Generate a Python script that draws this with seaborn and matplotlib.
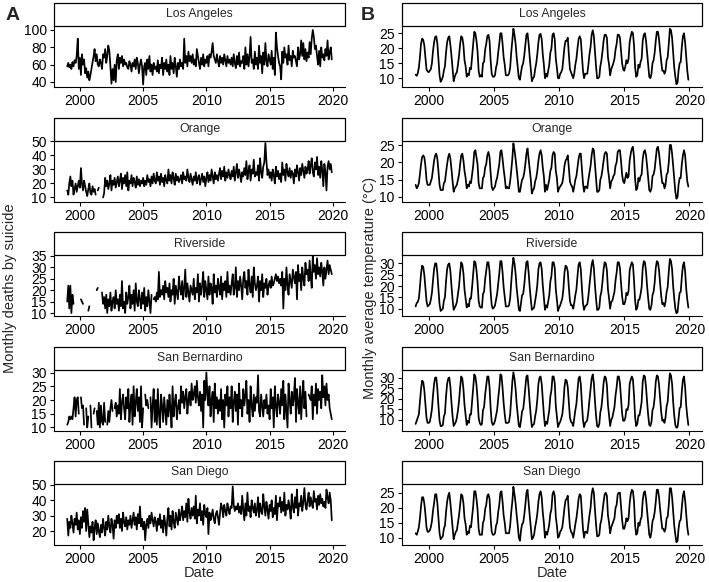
import numpy as np
import pandas as pd
import matplotlib
matplotlib.use("Agg")
import matplotlib.pyplot as plt
from matplotlib.patches import Rectangle
import seaborn as sns

nan = float("nan")

counties = ["Los Angeles", "Orange", "Riverside", "San Bernardino", "San Diego"]
x_tick_years = [2000, 2005, 2010, 2015, 2020]
dates = pd.date_range("1999-01-01", periods=252, freq="MS")

# ---------------- Monthly deaths by suicide ----------------
deaths_la = [
    58, 62, 57, 60, 55, 63, 58, 65, 62, 70, 90, 55,
    68, 48, 72, 60, 66, 50, 56, 45, 52, 42, 48, 55,
    62, 70, 78, 64, 72, 60, 58, 66, 62, 55, 72, 68,
    78, 62, 70, 82, 76, 58, 38, 55, 42, 60, 40, 65,
    72, 55, 68, 62, 70, 58, 66, 60, 62, 57, 55, 64,
    60, 52, 62, 58, 66, 55, 68, 62, 50, 60, 66, 58,
    37, 58, 62, 48, 66, 55, 70, 52, 60, 48, 62, 55,
    58, 52, 65, 50, 60, 56, 68, 48, 62, 55, 66, 52,
    60, 48, 70, 55, 62, 50, 68, 58, 46, 62, 55, 66,
    58, 62, 55, 90, 62, 70, 58, 75, 64, 70, 62, 72,
    60, 66, 58, 78, 70, 62, 55, 68, 60, 72, 58, 66,
    62, 70, 58, 72, 68, 75, 85, 70, 66, 62, 72, 64,
    58, 70, 62, 68, 60, 72, 65, 58, 70, 62, 66, 60,
    68, 58, 72, 62, 56, 70, 60, 74, 58, 64, 62, 70,
    55, 80, 60, 72, 58, 70, 92, 62, 66, 55, 75, 60,
    68, 55, 82, 62, 70, 50, 74, 60, 85, 64, 58, 72,
    66, 60, 76, 55, 68, 48, 97, 80, 70, 62, 58, 43,
    75, 62, 80, 68, 72, 60, 82, 65, 70, 58, 76, 68,
    70, 64, 58, 80, 66, 72, 88, 70, 85, 66, 78, 64,
    74, 68, 86, 72, 90, 100, 92, 78, 82, 70, 60, 76,
    58, 80, 68, 72, 65, 78, 70, 88, 66, 74, 80, 66,
]
deaths_orange = [
    15, 12, 20, 25, 18, 22, 12, 16, 20, 14, 18, 22,
    17, 31, 20, 15, 22, 18, 14, 11, 16, 20, 13, 12,
    18, 14, 16, 12, nan, 15, 17, nan, nan, nan, 10, 13,
    24, 18, 22, 16, 20, 26, 15, 22, 19, 24, 17, 21,
    25, 18, 22, 27, 16, 24, 20, 26, 18, 28, 15, 22,
    20, 26, 18, 24, 21, 17, 25, 19, 23, 18, 22, 20,
    24, 18, 22, 19, 26, 21, 23, 18, 25, 20, 27, 22,
    20, 28, 22, 25, 19, 27, 21, 24, 18, 26, 22, 20,
    30, 22, 26, 20, 28, 24, 19, 27, 22, 25, 21, 23,
    26, 20, 28, 23, 25, 22, 30, 24, 21, 27, 23, 19,
    25, 22, 28, 20, 24, 26, 19, 23, 27, 21, 25, 18,
    24, 28, 21, 26, 22, 30, 25, 20, 28, 23, 26, 22,
    27, 31, 23, 29, 25, 32, 22, 28, 24, 30, 26, 23,
    29, 25, 32, 22, 28, 34, 24, 30, 26, 21, 28, 25,
    31, 26, 36, 23, 29, 33, 22, 30, 27, 37, 25, 28,
    26, 33, 22, 38, 28, 24, 32, 35, 49, 36, 26, 30,
    24, 28, 22, 30, 26, 20, 32, 25, 29, 23, 27, 21,
    35, 26, 30, 22, 34, 28, 25, 31, 24, 29, 27, 20,
    30, 25, 33, 28, 22, 31, 26, 34, 29, 24, 32, 27,
    30, 36, 27, 33, 38, 28, 25, 35, 30, 39, 26, 32,
    24, 36, 30, 18, 34, 28, 15, 32, 36, 30, 34, 28,
]
deaths_riverside = [
    15, 22, 12, 22, 10, 18, 14, nan, nan, nan, nan, nan,
    nan, 16, 15, 14, nan, nan, nan, nan, 11, 13, nan, nan,
    nan, nan, nan, nan, 20, 21, nan, nan, nan, 19, 14, 17,
    12, 18, 10, 16, 13, 19, 11, 15, 17, 12, 20, 14,
    16, 11, 18, 13, 24, 12, 15, 10, 19, 14, 17, 22,
    12, 18, 14, 20, 11, 23, 15, 13, 20, 16, 12, 19,
    14, 21, 11, 17, 13, 20, 15, 10, 18, nan, 16, 17,
    15, 19, 16, 28, 17, 20, 18, 22, 16, 24, 19, 21,
    17, 23, 15, 20, 18, 25, 14, 22, 19, 16, 26, 21,
    18, 24, 16, 21, 29, 17, 23, 19, 15, 22, 20, 18,
    25, 16, 21, 19, 27, 15, 23, 18, 22, 28, 17, 24,
    20, 16, 26, 18, 23, 21, 14, 27, 19, 22, 17, 25,
    21, 18, 26, 16, 23, 20, 24, 17, 28, 19, 22, 18,
    23, 27, 18, 21, 30, 17, 24, 20, 26, 22, 16, 25,
    28, 21, 24, 18, 29, 22, 19, 26, 17, 30, 23, 20,
    22, 26, 15, 24, 20, 27, 17, 23, 21, 25, 18, 22,
    24, 21, 26, 22, 23, 25, 27, 24, 26, 23, 25, 22,
    28, 12, 25, 20, 30, 22, 18, 27, 24, 21, 29, 26,
    23, 28, 16, 31, 24, 27, 20, 30, 25, 22, 32, 27,
    29, 24, 33, 26, 21, 35, 28, 31, 25, 34, 27, 30,
    26, 32, 28, 22, 30, 25, 29, 33, 27, 31, 29, 27,
]
deaths_sanbernardino = [
    11, 12, 14, 13, 14, 13, 17, 21, 14, 20, 21, 15,
    nan, 21, 17, 18, 11, nan, 17, 10, 14, nan, 18, 10,
    nan, 15, 17, nan, 16, 11, 19, 10, 18, 12, 11, 19,
    12, nan, 11, 16, 12, 17, 20, 16, nan, 17, 19, 14,
    18, 15, 24, 13, 19, 22, 17, 13, 21, 17, 24, 12,
    18, 22, 11, 25, 14, 19, 24, 16, 21, 12, 25, 10,
    17, nan, 22, 18, 20, 17, nan, 21, 10, 18, 24, 12,
    20, 11, 24, 15, 10, 22, 18, 12, 21, 16, 11, 20,
    14, 22, 17, 10, 25, 14, 19, 22, 13, 17, 20, 15,
    25, 19, 23, 17, 21, 24, 15, 20, 23, 18, 26, 20,
    22, 25, 19, 27, 21, 18, 23, 16, 22, 10, 27, 20,
    30, 22, 18, 25, 14, 20, 23, 12, 26, 17, 21, 15,
    20, 16, 24, 13, 20, 10, 22, 18, 25, 14, 21, 17,
    25, 12, 19, 23, 16, 22, 11, 26, 17, 20, 14, 24,
    18, 22, 27, 15, 20, 12, 25, 18, 14, 22, 16, 21,
    19, 29, 16, 14, 22, 18, 14, 20, 17, 22, 15, 18,
    13, 24, 17, 21, 10, 25, 18, 14, 22, 19, 15, 24,
    18, 27, 13, 22, 16, 10, 26, 20, 15, 23, 18, 21,
    28, 12, 24, 19, 15, 25, 13, 21, 27, 17, 23, 14,
    nan, 22, 21, 20, 25, 13, 22, 18, 26, 15, 24, 20,
    23, 17, 29, 21, 25, 18, 26, 20, 22, 17, 15, 13,
]
deaths_sandiego = [
    28, 17, 26, 22, 30, 25, 19, 28, 24, 32, 21, 27,
    18, 29, 22, 33, 26, 35, 20, 34, 25, 16, 23, 19,
    26, 14, 22, 27, 18, 25, 20, 16, 24, 19, 28, 22,
    17, 26, 21, 30, 23, 19, 28, 24, 15, 27, 22, 30,
    25, 31, 22, 28, 20, 32, 26, 23, 29, 21, 27, 24,
    30, 22, 27, 32, 24, 29, 21, 31, 25, 36, 23, 28,
    21, 26, 14, 24, 28, 22, 30, 25, 32, 27, 23, 29,
    26, 20, 28, 24, 31, 22, 27, 19, 30, 25, 17, 28,
    35, 23, 30, 21, 33, 26, 22, 32, 28, 24, 34, 27,
    31, 36, 27, 33, 29, 38, 26, 41, 32, 28, 35, 30,
    36, 28, 43, 25, 34, 30, 38, 27, 33, 24, 37, 31,
    29, 35, 18, 32, 27, 30, 34, 28, 25, 31, 33, 29,
    24, 32, 38, 35, 29, 37, 33, 30, 38, 34, 31, 36,
    35, 49, 37, 33, 36, 34, 38, 32, 36, 31, 43, 34,
    27, 38, 30, 45, 33, 36, 29, 40, 35, 32, 38, 30,
    34, 42, 29, 38, 33, 31, 44, 36, 30, 39, 34, 28,
    37, 33, 40, 29, 35, 31, 43, 27, 38, 36, 42, 32,
    39, 33, 45, 30, 37, 34, 40, 35, 28, 44, 36, 32,
    42, 35, 47, 30, 38, 36, 43, 33, 39, 48, 37, 34,
    40, 45, 36, 42, 38, 35, 46, 39, 41, 34, 43, 37,
    44, 38, 41, 36, 39, 35, 47, 42, 38, 45, 40, 27,
]

# ---------------- Monthly average temperature (°C) ----------------
temp_la = [
    11.2, 10.8, 11.6, 13.5, 17.0, 21.5, 23.2, 22.8, 21.0, 17.0, 13.0, 12.3,
    12.0, 12.5, 13.0, 15.0, 19.0, 22.0, 23.8, 24.0, 21.5, 16.5, 11.0, 8.8,
    9.5, 10.5, 12.5, 14.0, 18.5, 22.0, 23.5, 24.0, 21.0, 17.5, 13.0, 9.0,
    10.5, 11.5, 12.0, 14.5, 17.5, 21.5, 24.0, 23.5, 21.0, 16.0, 14.0, 10.5,
    11.5, 11.0, 13.5, 13.0, 17.0, 21.0, 25.5, 25.0, 22.5, 19.0, 12.5, 10.5,
    11.0, 10.5, 15.0, 15.5, 19.5, 21.5, 24.0, 24.5, 22.5, 16.0, 11.5, 10.5,
    10.5, 11.0, 13.5, 15.0, 18.5, 21.5, 25.0, 25.0, 21.5, 17.0, 14.5, 11.0,
    11.0, 11.0, 11.5, 13.5, 18.5, 22.5, 26.5, 24.5, 21.5, 17.0, 13.5, 10.0,
    9.5, 12.0, 14.0, 15.0, 17.5, 21.0, 24.5, 25.0, 21.5, 17.0, 13.0, 9.0,
    10.0, 10.5, 13.0, 15.0, 18.0, 22.0, 24.5, 24.8, 23.0, 18.0, 14.5, 10.0,
    11.5, 10.5, 12.5, 14.5, 18.5, 20.0, 24.5, 25.0, 23.0, 16.5, 13.5, 10.0,
    10.0, 11.5, 12.0, 13.0, 16.5, 20.5, 22.5, 22.5, 23.5, 18.0, 13.0, 12.0,
    11.0, 10.0, 11.5, 14.5, 16.5, 20.0, 23.0, 24.0, 23.0, 18.0, 12.5, 10.0,
    11.5, 11.5, 11.5, 14.5, 18.0, 20.5, 24.5, 26.0, 24.0, 19.0, 14.0, 10.0,
    10.0, 10.5, 14.0, 16.0, 19.0, 22.5, 24.5, 24.5, 23.5, 17.0, 14.5, 11.0,
    13.0, 14.0, 15.0, 16.5, 19.5, 21.5, 24.5, 24.5, 23.5, 19.5, 15.0, 13.0,
    12.5, 14.0, 16.0, 15.0, 16.5, 22.0, 24.0, 25.5, 25.0, 21.0, 13.5, 10.5,
    11.0, 14.5, 13.5, 15.5, 16.5, 22.5, 24.5, 25.0, 22.5, 18.5, 14.5, 10.5,
    10.0, 11.5, 15.0, 16.0, 18.5, 22.5, 25.5, 25.5, 23.0, 19.0, 15.5, 12.5,
    12.5, 11.5, 12.5, 16.0, 17.0, 21.5, 26.5, 26.0, 23.5, 18.5, 13.5, 10.5,
    8.0, 8.5, 12.5, 15.0, 15.5, 20.5, 24.0, 25.0, 22.0, 17.5, 12.5, 9.5,
]
temp_orange = [
    13.5, 12.5, 13.0, 14.0, 16.5, 19.5, 21.5, 22.0, 21.5, 19.0, 15.0, 13.5,
    13.5, 13.5, 14.5, 15.5, 18.0, 20.5, 22.0, 22.5, 21.0, 17.5, 13.5, 12.0,
    12.0, 12.0, 14.0, 14.5, 17.0, 19.5, 21.5, 22.5, 21.0, 18.0, 14.5, 11.5,
    12.5, 13.0, 13.5, 15.0, 16.5, 19.5, 22.0, 22.5, 20.5, 17.5, 15.5, 12.5,
    13.5, 13.0, 14.5, 14.0, 16.5, 19.0, 23.0, 23.5, 21.5, 19.5, 14.0, 12.5,
    12.5, 12.5, 15.5, 16.0, 18.5, 19.5, 22.0, 23.0, 21.5, 17.0, 13.0, 12.0,
    12.5, 13.0, 14.5, 15.5, 17.5, 19.5, 23.0, 23.5, 21.0, 18.0, 15.5, 12.5,
    13.0, 12.5, 12.5, 14.5, 17.5, 21.0, 25.5, 23.5, 21.0, 18.0, 15.0, 11.5,
    11.5, 13.5, 15.0, 15.5, 17.0, 19.5, 22.5, 24.0, 21.0, 18.0, 15.0, 11.0,
    12.0, 12.5, 14.5, 15.5, 17.5, 20.5, 22.5, 23.5, 22.0, 18.5, 16.0, 11.5,
    13.5, 12.0, 13.5, 15.0, 17.5, 18.5, 22.0, 23.0, 22.5, 17.5, 15.5, 11.5,
    12.5, 13.0, 13.5, 14.0, 16.0, 19.0, 20.5, 21.0, 22.0, 18.5, 14.5, 13.5,
    13.0, 11.5, 13.0, 15.0, 16.0, 18.5, 21.0, 22.5, 22.5, 18.5, 14.0, 11.5,
    13.0, 13.0, 12.5, 15.0, 17.0, 19.0, 22.0, 24.0, 23.5, 19.5, 15.5, 11.5,
    11.5, 12.0, 15.0, 16.0, 18.0, 20.5, 22.5, 23.0, 22.5, 18.0, 15.5, 12.5,
    14.5, 15.0, 16.0, 16.5, 19.0, 20.0, 23.0, 23.5, 23.5, 20.5, 16.5, 14.5,
    14.0, 15.5, 17.0, 15.5, 16.0, 20.5, 22.5, 24.0, 24.5, 21.5, 15.0, 12.0,
    12.5, 15.5, 14.5, 16.0, 16.5, 21.0, 23.0, 23.5, 22.0, 19.0, 15.5, 12.0,
    11.5, 12.5, 16.0, 16.5, 18.0, 21.0, 24.0, 24.5, 22.5, 19.5, 16.5, 14.0,
    14.0, 12.5, 13.5, 16.5, 17.0, 20.0, 25.0, 25.0, 22.5, 19.0, 15.0, 11.5,
    9.5, 10.0, 13.5, 15.5, 15.5, 19.5, 22.0, 23.5, 22.0, 18.0, 14.5, 13.0,
]
temp_riverside = [
    11.0, 12.5, 13.0, 14.5, 19.5, 25.5, 29.0, 28.5, 25.0, 19.5, 13.5, 11.0,
    11.5, 12.0, 14.0, 17.0, 22.5, 27.5, 30.0, 30.0, 25.5, 18.5, 12.0, 9.0,
    9.5, 10.0, 13.5, 15.0, 22.0, 27.5, 29.5, 30.0, 26.5, 20.0, 14.0, 9.5,
    10.5, 11.5, 13.0, 16.5, 20.0, 26.0, 30.5, 29.5, 25.5, 18.5, 14.5, 10.5,
    12.0, 11.0, 14.5, 14.5, 19.5, 25.5, 31.0, 30.5, 27.0, 21.5, 13.5, 11.0,
    10.5, 10.5, 16.5, 17.5, 23.0, 27.0, 30.5, 30.5, 26.5, 17.5, 11.5, 10.0,
    10.5, 11.5, 14.0, 16.5, 21.0, 25.5, 31.0, 31.0, 26.0, 19.5, 15.0, 11.0,
    11.0, 11.0, 11.5, 14.5, 21.5, 28.0, 32.5, 30.0, 25.5, 19.0, 14.5, 9.5,
    9.0, 12.5, 16.0, 16.5, 20.5, 26.0, 30.5, 31.0, 26.0, 19.5, 14.0, 9.5,
    10.0, 10.5, 13.5, 16.5, 20.5, 27.5, 30.0, 30.5, 27.5, 20.5, 15.0, 9.5,
    11.5, 10.5, 13.0, 16.0, 22.0, 24.5, 30.5, 30.5, 28.0, 18.5, 14.0, 9.0,
    10.5, 11.5, 13.0, 14.5, 18.5, 26.0, 29.0, 28.5, 26.5, 19.5, 13.5, 11.5,
    11.5, 10.0, 12.5, 16.0, 18.5, 24.5, 29.5, 30.5, 27.5, 19.5, 12.5, 9.5,
    11.0, 11.5, 12.0, 15.5, 20.5, 25.0, 29.5, 31.5, 28.0, 20.5, 14.5, 9.5,
    9.5, 10.5, 15.5, 17.5, 22.0, 27.5, 30.5, 30.0, 27.0, 18.5, 14.5, 10.0,
    13.0, 13.5, 15.5, 17.5, 22.5, 26.0, 30.5, 30.5, 28.0, 21.5, 15.5, 12.0,
    12.0, 13.5, 17.0, 16.0, 18.0, 27.0, 29.0, 30.5, 29.5, 22.5, 13.5, 9.5,
    10.5, 14.0, 14.0, 16.5, 19.5, 28.0, 31.0, 30.5, 26.5, 20.0, 14.5, 10.0,
    9.5, 11.5, 16.0, 17.5, 21.5, 28.0, 31.0, 30.5, 27.0, 21.0, 15.5, 12.0,
    12.5, 11.0, 13.0, 17.5, 19.5, 26.5, 32.0, 31.0, 27.5, 20.0, 14.5, 10.0,
    8.0, 8.5, 13.0, 17.0, 17.5, 24.0, 29.0, 30.5, 26.5, 19.0, 14.0, 10.5,
]
temp_sanbernardino = [
    8.0, 9.5, 11.0, 12.5, 18.5, 24.5, 28.5, 28.0, 24.0, 17.5, 11.0, 8.5,
    8.5, 9.0, 11.5, 15.0, 21.5, 27.0, 30.0, 30.0, 24.5, 16.5, 9.5, 7.0,
    7.0, 7.5, 11.5, 13.0, 21.0, 27.0, 29.5, 30.0, 25.5, 18.0, 11.5, 7.0,
    8.0, 9.0, 11.0, 14.5, 19.0, 25.5, 30.5, 29.5, 24.5, 17.0, 12.0, 7.5,
    9.5, 8.5, 12.5, 12.5, 18.5, 25.0, 31.5, 30.5, 26.5, 20.0, 11.0, 8.5,
    7.5, 8.0, 14.5, 16.0, 22.0, 26.5, 30.5, 30.5, 25.5, 15.5, 9.0, 7.5,
    8.0, 9.5, 12.0, 14.5, 20.0, 25.0, 31.5, 31.0, 25.0, 18.0, 12.5, 8.5,
    8.5, 8.5, 9.0, 12.5, 20.5, 28.0, 32.5, 29.5, 24.5, 17.5, 12.0, 7.0,
    6.5, 10.0, 14.0, 15.0, 19.5, 25.5, 30.5, 31.0, 25.0, 18.0, 11.5, 6.5,
    7.5, 8.0, 11.5, 14.5, 19.5, 27.0, 30.0, 30.5, 27.0, 19.5, 12.5, 7.0,
    9.0, 8.0, 11.0, 14.5, 21.0, 24.0, 30.5, 30.5, 27.5, 16.5, 11.5, 6.5,
    8.0, 9.0, 10.5, 12.5, 17.5, 25.5, 29.0, 28.5, 25.5, 18.0, 11.0, 9.0,
    8.5, 7.0, 10.5, 14.5, 17.5, 24.0, 29.5, 30.5, 27.0, 18.0, 10.0, 6.5,
    8.5, 9.0, 10.0, 14.0, 19.5, 24.5, 29.5, 31.5, 27.5, 19.0, 12.0, 7.0,
    6.5, 8.0, 13.5, 16.0, 21.0, 27.5, 30.5, 30.0, 26.5, 17.0, 12.0, 7.0,
    10.0, 11.0, 13.5, 16.0, 21.5, 25.5, 30.5, 30.5, 27.5, 20.5, 13.0, 9.5,
    9.5, 11.0, 15.0, 14.5, 17.0, 27.0, 29.0, 30.5, 29.0, 21.5, 11.0, 7.0,
    8.0, 12.0, 12.0, 15.0, 18.5, 28.0, 31.0, 30.5, 25.5, 18.5, 12.0, 7.5,
    7.0, 9.0, 14.5, 16.0, 20.5, 28.0, 31.0, 30.5, 26.5, 20.0, 13.5, 9.5,
    10.0, 8.5, 11.0, 16.5, 18.5, 26.0, 32.0, 31.0, 27.0, 18.5, 12.0, 7.5,
    6.2, 6.5, 10.5, 15.5, 16.0, 23.5, 29.0, 30.5, 25.5, 17.0, 11.5, 7.5,
]
temp_sandiego = [
    11.5, 11.0, 12.0, 13.5, 16.5, 20.5, 23.5, 23.5, 21.5, 18.0, 13.5, 12.0,
    12.0, 12.5, 13.5, 15.5, 19.0, 21.5, 24.5, 24.5, 21.5, 16.5, 11.5, 9.5,
    10.0, 10.5, 13.0, 14.0, 18.5, 22.0, 24.0, 25.0, 21.5, 17.5, 13.5, 9.5,
    11.0, 12.0, 12.5, 15.0, 17.5, 21.0, 24.5, 24.0, 21.5, 16.5, 14.5, 11.0,
    12.0, 11.5, 14.0, 13.5, 17.0, 20.5, 25.5, 25.5, 23.0, 19.5, 13.0, 11.0,
    11.0, 11.0, 15.0, 16.0, 19.5, 21.0, 24.0, 24.5, 23.0, 16.5, 12.0, 11.0,
    11.0, 11.5, 14.0, 15.0, 18.5, 21.0, 25.0, 25.5, 22.0, 17.5, 15.0, 11.5,
    11.5, 11.5, 11.5, 14.0, 18.5, 22.0, 27.0, 24.5, 21.5, 17.5, 14.0, 10.0,
    9.0, 12.5, 14.5, 15.0, 17.5, 21.0, 25.0, 26.0, 21.5, 17.5, 13.5, 9.5,
    10.0, 11.0, 13.5, 15.5, 18.0, 22.0, 24.5, 25.5, 23.5, 18.5, 15.0, 10.0,
    12.0, 11.0, 12.5, 14.5, 18.0, 19.5, 24.5, 25.5, 24.0, 17.0, 14.0, 10.0,
    10.5, 12.0, 12.5, 13.5, 16.5, 20.0, 22.5, 23.0, 24.0, 18.5, 13.5, 12.0,
    11.5, 10.0, 12.0, 14.5, 16.5, 19.5, 23.0, 24.5, 24.0, 18.5, 13.0, 10.0,
    12.0, 12.0, 11.5, 14.5, 17.5, 20.0, 24.5, 26.5, 25.0, 19.5, 14.5, 10.5,
    10.5, 11.0, 14.5, 16.0, 19.0, 22.0, 24.5, 25.0, 24.0, 17.5, 15.0, 11.5,
    13.5, 14.5, 15.5, 16.5, 20.0, 21.0, 24.5, 25.0, 25.0, 20.5, 16.0, 13.0,
    13.0, 14.5, 16.5, 15.5, 16.5, 21.5, 24.5, 26.0, 25.5, 22.0, 14.0, 11.0,
    11.5, 15.0, 14.0, 16.0, 17.0, 22.5, 25.0, 25.5, 23.0, 19.0, 15.0, 11.0,
    10.0, 12.0, 15.5, 16.5, 18.5, 22.0, 26.0, 26.0, 23.5, 19.5, 16.0, 13.0,
    13.0, 12.0, 13.0, 16.5, 17.0, 21.0, 26.5, 26.5, 23.5, 19.0, 14.0, 11.0,
    8.5, 9.0, 13.0, 15.5, 16.0, 20.0, 24.0, 25.5, 22.5, 18.0, 13.5, 11.0,
]

deaths = [deaths_la, deaths_orange, deaths_riverside, deaths_sanbernardino, deaths_sandiego]
temps = [temp_la, temp_orange, temp_riverside, temp_sanbernardino, temp_sandiego]

death_ticks = [[40, 60, 80, 100], [10, 20, 30, 40, 50], [10, 15, 20, 25, 30, 35],
               [10, 15, 20, 25, 30], [20, 30, 40, 50]]
temp_ticks = [[10, 15, 20, 25], [10, 15, 20, 25], [10, 15, 20, 25, 30],
              [10, 15, 20, 25, 30], [10, 15, 20, 25]]
death_ylim = [(34.2, 104.6), (7.1, 50.7), (8.7, 35.4), (8.9, 31.1), (10.9, 50.6)]

# ---------------- styling ----------------
sns.set_theme(style="ticks")
plt.rcParams["font.family"] = ["Liberation Sans", "DejaVu Sans"]
plt.rcParams["axes.linewidth"] = 0.8
plt.rcParams["xtick.major.width"] = 0.8
plt.rcParams["ytick.major.width"] = 0.8
plt.rcParams["xtick.major.size"] = 3.2
plt.rcParams["ytick.major.size"] = 3.2
plt.rcParams["xtick.major.pad"] = 2.0
plt.rcParams["ytick.major.pad"] = 2.0
plt.rcParams["xtick.color"] = "black"
plt.rcParams["ytick.color"] = "black"
plt.rcParams["axes.edgecolor"] = "black"

W, H = 709, 582
fig = plt.figure(figsize=(W / 100, H / 100), dpi=100)


def px_axes(x0, y0, x1, y1):
    return fig.add_axes([x0 / W, 1 - y1 / H, (x1 - x0) / W, (y1 - y0) / H])


d0, d1 = dates[0], dates[-1]
span = d1 - d0
xlim = (d0 - span * 0.05, d1 + span * 0.05)
xticks = [pd.Timestamp(f"{y}-01-01") for y in x_tick_years]

row_step = 114.5
columns = [(54, 345, deaths, death_ticks, death_ylim), (402, 702, temps, temp_ticks, None)]

for x0, x1, series_list, ticks_list, ylims in columns:
    for i, name in enumerate(counties):
        top = 3 + row_step * i
        # strip (facet label box)
        rect = Rectangle((x0 / W, 1 - (top + 23) / H), (x1 - x0) / W, 23 / H,
                         transform=fig.transFigure, facecolor="white",
                         edgecolor="black", linewidth=0.9, zorder=5)
        fig.add_artist(rect)
        fig.text((x0 + x1) / 2 / W, 1 - (top + 11.5) / H, name, ha="center",
                 va="center", fontsize=8.8, zorder=6)

        ax = px_axes(x0, top + 23, x1, top + 84)
        vals = np.array(series_list[i], dtype=float)
        seg = np.cumsum(np.isnan(vals))
        df = pd.DataFrame({"date": dates, "value": vals, "seg": seg}).dropna()
        sns.lineplot(data=df, x="date", y="value", units="seg", estimator=None,
                     color="black", linewidth=1.25, ax=ax)
        ax.set_xlim(xlim)
        ax.set_xticks(xticks)
        ax.set_xticklabels([str(y) for y in x_tick_years], fontsize=10)
        ax.set_yticks(ticks_list[i])
        ax.set_yticklabels([str(t) for t in ticks_list[i]], fontsize=10)
        if ylims is not None:
            ax.set_ylim(ylims[i])
        else:
            lo, hi = np.nanmin(vals), np.nanmax(vals)
            r = hi - lo
            ax.set_ylim(lo - 0.05 * r, hi + 0.05 * r)
        ax.set_xlabel("")
        ax.set_ylabel("")
        ax.spines["top"].set_visible(False)
        ax.spines["right"].set_visible(False)
        ax.set_facecolor("white")
        if ax.get_legend() is not None:
            ax.get_legend().remove()

fig.text(199.5 / W, 1 - 573 / H, "Date", ha="center", va="center", fontsize=10.5)
fig.text(552 / W, 1 - 573 / H, "Date", ha="center", va="center", fontsize=10.5)
fig.text(10 / W, 1 - 288 / H, "Monthly deaths by suicide", rotation=90,
         ha="center", va="center", fontsize=10.5)
fig.text(370 / W, 1 - 288 / H, "Monthly average temperature (°C)", rotation=90,
         ha="center", va="center", fontsize=10.5)
fig.text(6 / W, 1 - 15 / H, "A", ha="left", va="center", fontsize=14, fontweight="bold")
fig.text(361 / W, 1 - 15 / H, "B", ha="left", va="center", fontsize=14, fontweight="bold")

fig.savefig("out.png", dpi=100, facecolor="white")
